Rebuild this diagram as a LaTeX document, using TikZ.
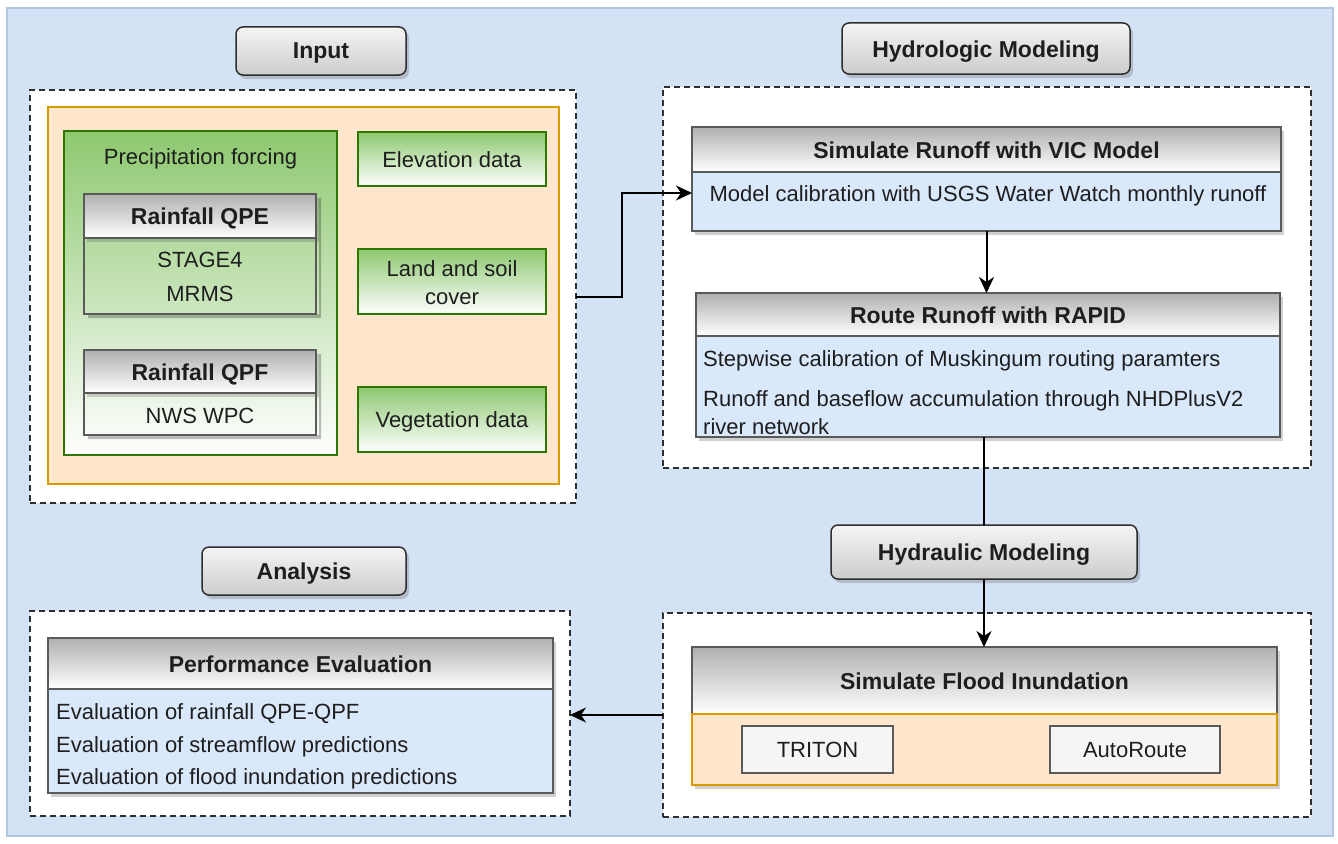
\documentclass[tikz,border=0pt]{standalone}
\usepackage{fontspec}
\setmainfont{Liberation Sans}
\usetikzlibrary{fit,shadows,arrows.meta}

\definecolor{bgblue}{HTML}{D4E2F6}
\definecolor{bgedge}{HTML}{B2C6E2}
\definecolor{dashc}{HTML}{2E2E2E}
\definecolor{orfill}{HTML}{FFE6CC}
\definecolor{oredge}{HTML}{D79B00}
\definecolor{grtop}{HTML}{8DC86F}
\definecolor{grmid}{HTML}{A2D18B}
\definecolor{gredge}{HTML}{2D7600}
\definecolor{hdrtop}{HTML}{B0B0B0}
\definecolor{hdredge}{HTML}{5A5A5A}
\definecolor{bluebody}{HTML}{DAE8FC}
\definecolor{toolfill}{HTML}{F5F5F5}
\definecolor{txtc}{HTML}{1E1E1E}

\begin{document}
\begin{tikzpicture}[x=1pt,y=-1pt,
  font=\fontsize{22}{26}\selectfont, text=txtc,
  box/.style={inner sep=0pt, outer sep=0pt},
  shad/.style={drop shadow={shadow xshift=3pt, shadow yshift=-4pt, fill=black!60, opacity=0.3}},
  titlebox/.style={box, rounded corners=7pt, draw=dashc, line width=1.5pt,
    top color=white!96!black, bottom color=black!20, shad},
  dashbox/.style={box, draw=dashc, line width=1.7pt, dash pattern=on 6pt off 4pt, fill=white},
  orangebox/.style={box, draw=oredge, line width=1.5pt, fill=orfill},
  greenbox/.style={box, draw=gredge, line width=2.4pt, top color=grtop, bottom color=white},
  precipbox/.style={box, draw=gredge, line width=2.4pt, top color=grtop, middle color=grmid, bottom color=white},
  grayhdr/.style={box, draw=hdredge, line width=2pt, top color=hdrtop, bottom color=white, shad},
  qbody/.style={box, draw=hdredge, line width=2.5pt},
  bluebox/.style={box, draw=hdredge, line width=1.5pt, fill=bluebody, shad},
  orbody/.style={box, draw=oredge, line width=1.5pt, fill=orfill, shad},
  toolbox/.style={box, draw=hdredge, line width=1.5pt, fill=toolfill},
  txt/.style={inner sep=0pt, anchor=base},
  ltxt/.style={inner sep=0pt, anchor=base west},
  btxt/.style={inner sep=0pt, anchor=base, font=\fontsize{23}{27}\selectfont\bfseries},
  conn/.style={line width=2pt, black},
  arr/.style={conn, -{Stealth[length=16pt, width=15pt, inset=5pt]}}
]
\useasboundingbox (0,0) rectangle (1338,843);
\fill[white] (0,0) rectangle (1338,843);
\path[fill=bgblue, draw=bgedge, line width=1.5pt] (7,8) rectangle (1333,836);

% ---------- Input ----------
\node[titlebox, fit={(236,27)(406,75)}] (inputt) {};
\node[btxt] (inputtx) at (321,59) {Input};
\node[dashbox, fit={(30,90)(576,503)}] (inputdash) {};
\node[orangebox, fit={(48,107)(559,484)}] (inputor) {};
\node[precipbox, fit={(64,131)(337,455)}] (precip) {};
\node[txt] (preciptx) at (200.5,164) {Precipitation forcing};

\fill[black, opacity=0.25] (319,198) rectangle (321,318) (88,314) rectangle (321,318);
\node[grayhdr, fit={(84,194)(316,238)}] (qpeh) {};
\node[qbody, fit={(84,238)(316,314)}] (qpeb) {};
\node[btxt] (qpetx) at (200,224) {Rainfall QPE};
\node[txt] (stage) at (200,267) {STAGE4};
\node[txt] (mrms) at (200,301) {MRMS};

\fill[black, opacity=0.25] (319,354) rectangle (321,439) (88,435) rectangle (321,439);
\node[grayhdr, fit={(84,350)(316,393)}] (qpfh) {};
\node[qbody, fit={(84,393)(316,435)}] (qpfb) {};
\node[btxt] (qpftx) at (200,380) {Rainfall QPF};
\node[txt] (nws) at (200,423) {NWS WPC};

\node[greenbox, fit={(358,132)(546,186)}] (elev) {};
\node[txt] (elevtx) at (452,167) {Elevation data};
\node[greenbox, fit={(358,249)(546,314)}] (land) {};
\node[txt] (landtx1) at (452,276) {Land and soil};
\node[txt] (landtx2) at (452,304) {cover};
\node[greenbox, fit={(358,387)(546,452)}] (veg) {};
\node[txt] (vegtx) at (452,427) {Vegetation data};

% ---------- Hydrologic ----------
\node[titlebox, fit={(842,23)(1130,74)}] (hydrot) {};
\node[btxt] (hydrotx) at (986,57) {Hydrologic Modeling};
\node[dashbox, fit={(663,87)(1311,468)}] (hydrodash) {};
\node[grayhdr, fit={(692,127)(1281,172)}] (vich) {};
\node[bluebox, fit={(692,172)(1281,231)}] (vicb) {};
\node[btxt] (victx) at (986.5,158) {Simulate Runoff with VIC Model};
\node[txt] (vicl1) at (988,201) {Model calibration with USGS Water Watch monthly runoff};

\node[grayhdr, fit={(696,293)(1280,336)}] (routeh) {};
\node[bluebox, fit={(696,336)(1280,437)}] (routeb) {};
\node[btxt] (routetx) at (988,323) {Route Runoff with RAPID};
\node[ltxt] (routel1) at (703,366) {Stepwise calibration of Muskingum routing paramters};
\node[ltxt] (routel2) at (703,406) {Runoff and baseflow accumulation through NHDPlusV2};
\node[ltxt] (routel3) at (703,434) {river network};

% ---------- Hydraulic ----------
\node[dashbox, fit={(663,613)(1311,817)}] (hydrdash) {};
\node[titlebox, fit={(831,525)(1137,579)}] (hydrt) {};
\node[btxt] (hydrtx) at (984,560) {Hydraulic Modeling};
\node[grayhdr, fit={(692,647)(1277,714)}] (floodh) {};
\node[orbody, fit={(692,714)(1277,785)}] (floodb) {};
\node[btxt] (floodtx) at (984.5,689) {Simulate Flood Inundation};
\node[toolbox, fit={(742,726)(893,773)}] (triton) {};
\node[txt] (tritontx) at (817.5,757) {TRITON};
\node[toolbox, fit={(1050,726)(1220,773)}] (autor) {};
\node[txt] (autortx) at (1135,757) {AutoRoute};

% ---------- Analysis ----------
\node[titlebox, fit={(202,547)(406,595)}] (anat) {};
\node[btxt] (anatx) at (304,579) {Analysis};
\node[dashbox, fit={(30,611)(570,816)}] (anadash) {};
\node[grayhdr, fit={(48,638)(553,689)}] (perfh) {};
\node[bluebox, fit={(48,689)(553,793)}] (perfb) {};
\node[btxt] (perftx) at (300.5,672) {Performance Evaluation};
\node[ltxt] (perfl1) at (56,719) {Evaluation of rainfall QPE-QPF};
\node[ltxt] (perfl2) at (56,752) {Evaluation of streamflow predictions};
\node[ltxt] (perfl3) at (56,784) {Evaluation of flood inundation predictions};

% ---------- Connectors ----------
\coordinate (elbow) at (622,296.5);
\coordinate (vicin) at ([yshift=8.5pt]vicb.west);
\draw[arr] (inputdash.east) -- (elbow) |- (vicin);
\draw[arr] (vicb.south) -- (vicb.south |- routeh.north);
\draw[conn] (hydrt.north |- routeb.south) -- (hydrt.north);
\draw[arr] (hydrt.south) -- (hydrt.south |- floodh.north);
\draw[arr] (hydrdash.west) -- (hydrdash.west -| anadash.east);
\end{tikzpicture}
\end{document}
